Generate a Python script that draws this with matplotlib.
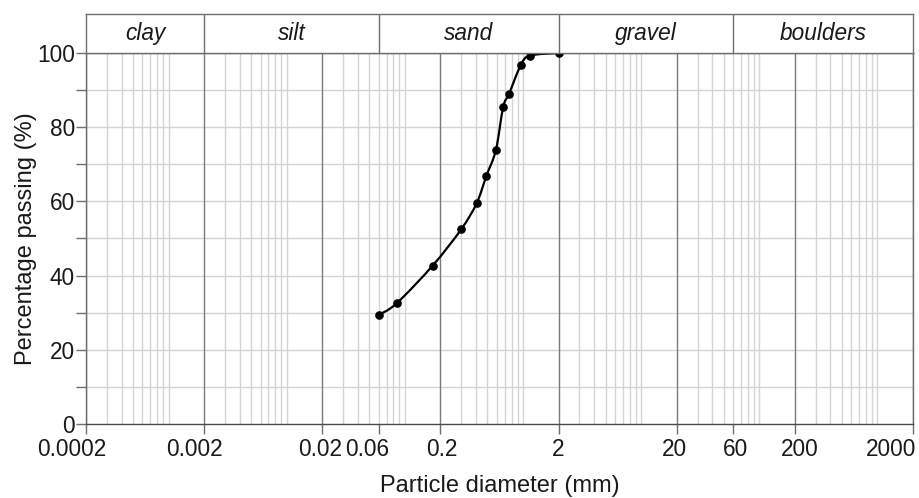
import numpy as np
import matplotlib.pyplot as plt
from matplotlib.path import Path
from matplotlib.patches import PathPatch
from matplotlib.transforms import ScaledTranslation

plt.rcParams['font.family'] = ['Liberation Sans', 'DejaVu Sans']

# sieve analysis readings
diameter = [0.06, 0.085, 0.172, 0.30, 0.405, 0.49, 0.59, 0.68, 0.76, 0.96, 1.15, 2.0]
passing = [29.4, 32.5, 42.7, 52.5, 59.5, 66.9, 73.9, 85.5, 88.9, 96.8, 99.3, 100.0]

tick_values = [0.0002, 0.002, 0.02, 0.06, 0.2, 2, 20, 60, 200, 2000]
tick_labels = ['0.0002', '0.002', '0.02', '0.06', '0.2', '2', '20', '60', '200', '2000']
# sideways nudge of each tick label in the original (pixels)
label_shift = [-14, -10, -2.5, -11, 1, 0, -2, 2.5, 5, -22]

soil_names = ['clay', 'silt', 'sand', 'gravel', 'boulders']
soil_edges = [0.0002, 0.002, 0.06, 2, 60, 2000]

FS = 16.3
FS_LABEL = 17
GRID_LIGHT = '#d4d4d4'
GRID_DARK = '#7a7a7a'
FRAME = '#6e6e6e'
TXT = '#1a1a1a'

fig = plt.figure(figsize=(9.19, 4.98), dpi=100)
ax = fig.add_axes([86 / 919, 74 / 498, 827 / 919, 371 / 498])
hdr = fig.add_axes([86 / 919, 445 / 498, 827 / 919, 39 / 498])

# ---- main grading chart
ax.set_xscale('log')
ax.set_xlim(0.0002, 2000)
ax.set_ylim(0, 100)

for e in range(-4, 4):
    base = 10.0 ** e
    if e < 3:
        for k in range(3, 11):
            ax.axvline(k * base, color=GRID_LIGHT, lw=1.0, zorder=0)
    ax.axvline(2 * base, color=GRID_DARK, lw=1.0, zorder=0.5)
for yv in range(10, 100, 10):
    ax.axhline(yv, color=GRID_LIGHT, lw=1.0, zorder=0)

# smooth curve through the readings (Catmull-Rom -> cubic Bezier in log-x space)
u = np.log10(diameter)
v = np.array(passing)
pts = np.column_stack([u, v])
ext = np.vstack([pts[0], pts, pts[-1]])
verts = [pts[0]]
codes = [Path.MOVETO]
for i in range(len(pts) - 1):
    p0, p1, p2, p3 = ext[i], ext[i + 1], ext[i + 2], ext[i + 3]
    c1 = p1 + (p2 - p0) / 6.0
    c2 = p2 - (p3 - p1) / 6.0
    verts += [c1, c2, p2]
    codes += [Path.CURVE4] * 3
verts = np.array(verts)
verts[:, 0] = 10 ** verts[:, 0]
ax.add_patch(PathPatch(Path(verts, codes), fill=False, lw=1.6,
                       edgecolor='black', zorder=3, clip_on=False))
ax.plot(diameter, passing, 'o', color='black', ms=5.2, zorder=4, clip_on=False)

ax.set_xticks(tick_values)
ax.set_xticklabels(tick_labels)
ax.xaxis.set_minor_locator(plt.NullLocator())
ax.set_yticks(range(0, 101, 20))
ax.set_yticks(range(10, 100, 20), minor=True)
ax.tick_params(axis='both', which='both', direction='out', color=FRAME,
               labelsize=FS, labelcolor=TXT, width=1.0)
ax.tick_params(axis='x', length=7, pad=3)
ax.tick_params(axis='y', which='both', length=7, pad=1)

for lab, dx in zip(ax.get_xticklabels(), label_shift):
    lab.set_transform(lab.get_transform() +
                      ScaledTranslation(dx / 100, 0, fig.dpi_scale_trans))

for s in ax.spines.values():
    s.set_color(FRAME)
    s.set_linewidth(1.0)
ax.spines['bottom'].set_color('#4a4a4a')

ax.set_xlabel('Particle diameter (mm)', fontsize=FS_LABEL, color=TXT, labelpad=10)
ax.set_ylabel('Percentage passing (%)', fontsize=FS_LABEL, color=TXT, labelpad=0)

# ---- soil classification header
hdr.set_xscale('log')
hdr.set_xlim(0.0002, 2000)
hdr.set_ylim(0, 1)
hdr.set_xticks([])
hdr.set_yticks([])
hdr.xaxis.set_minor_locator(plt.NullLocator())
for s in hdr.spines.values():
    s.set_color(FRAME)
    s.set_linewidth(1.0)
for edge in soil_edges[1:-1]:
    hdr.axvline(edge, color=FRAME, lw=1.0)
for name, lo, hi in zip(soil_names, soil_edges[:-1], soil_edges[1:]):
    hdr.text(np.sqrt(lo * hi), 0.5, name, ha='center', va='center',
             fontsize=FS, style='italic', color=TXT)

fig.savefig('out.png', dpi=100)
